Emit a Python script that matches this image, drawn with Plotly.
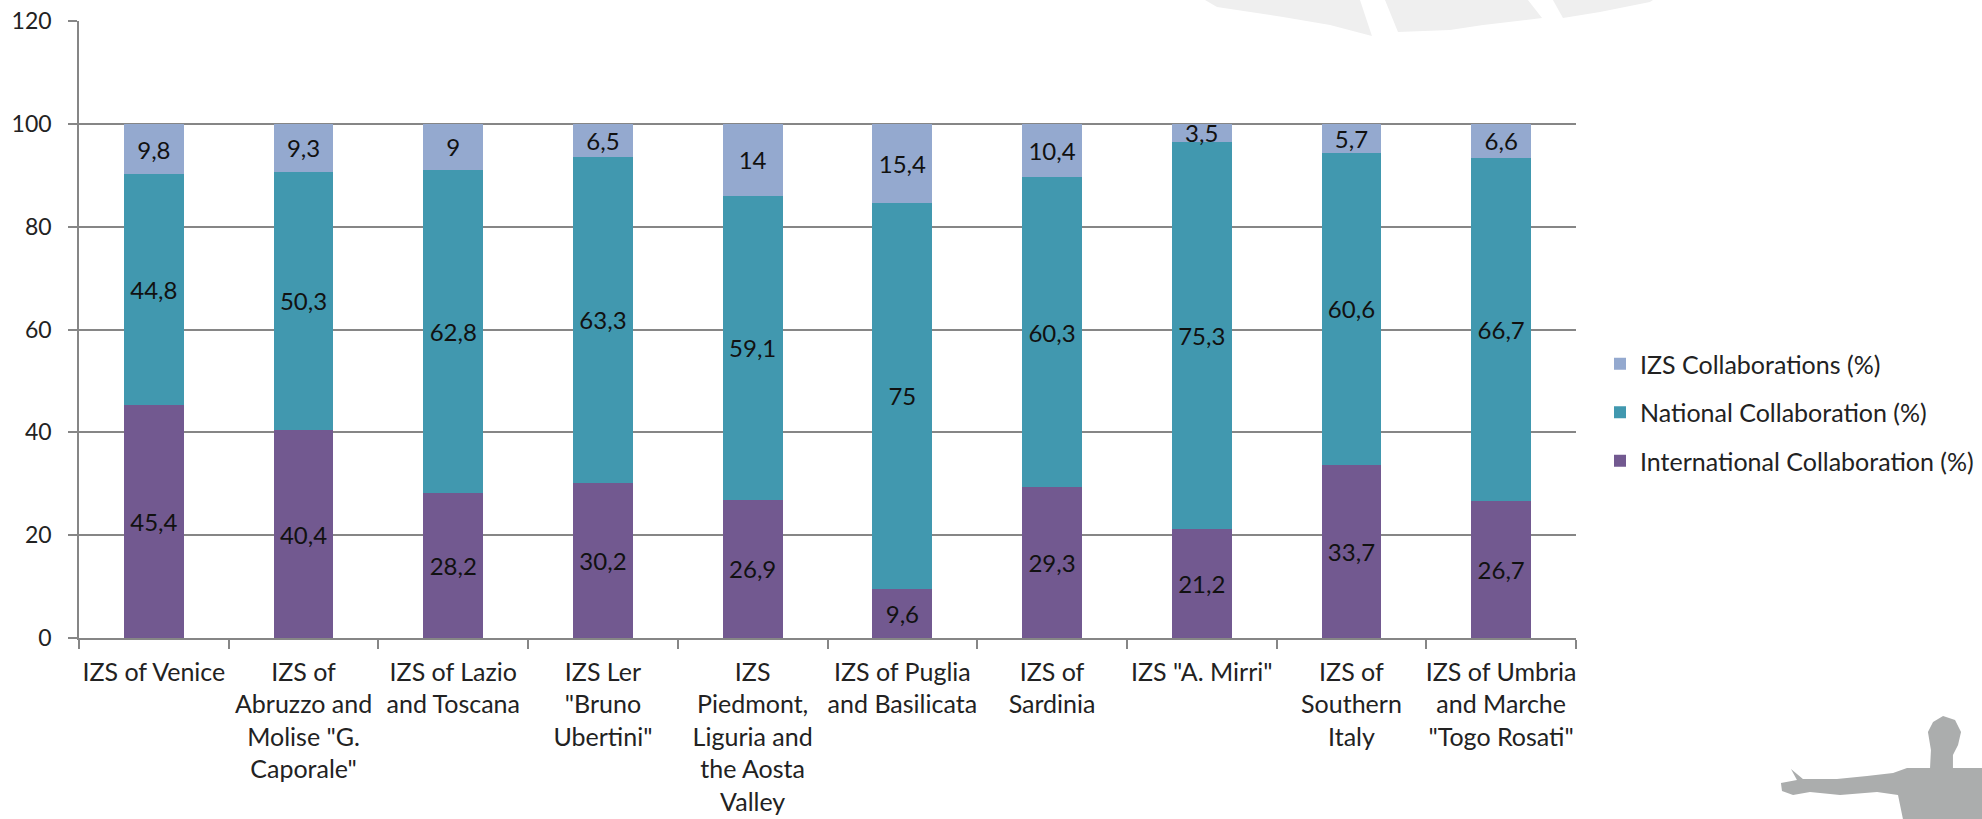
import plotly.graph_objects as go

categories = ['IZS of Venice', 'IZS of<br>Abruzzo and<br>Molise "G.<br>Caporale"', 'IZS of Lazio<br>and Toscana',
              'IZS Ler<br>"Bruno<br>Ubertini"', 'IZS<br>Piedmont,<br>Liguria and<br>the Aosta<br>Valley',
              'IZS of Puglia<br>and Basilicata', 'IZS of<br>Sardinia', 'IZS "A. Mirri"',
              'IZS of<br>Southern<br>Italy', 'IZS of Umbria<br>and Marche<br>"Togo Rosati"']
international = [45.4, 40.4, 28.2, 30.2, 26.9, 9.6, 29.3, 21.2, 33.7, 26.7]
national = [44.8, 50.3, 62.8, 63.3, 59.1, 75, 60.3, 75.3, 60.6, 66.7]
izs = [9.8, 9.3, 9, 6.5, 14, 15.4, 10.4, 3.5, 5.7, 6.6]
y_ticks = [0, 20, 40, 60, 80, 100, 120]

FONT = 'Lato'
W, H = 1982, 819
L, R, T, B = 79, 1576, 21, 638

def lab(v):
    return [str(x).replace('.', ',') for x in v]

fig = go.Figure()
for name, vals, col, rank in [('International Collaboration (%)', international, '#725990', 3),
                              ('National Collaboration (%)', national, '#4198AF', 2),
                              ('IZS Collaborations (%)', izs, '#94A9CF', 1)]:
    fig.add_trace(go.Bar(x=categories, y=vals, name=name, marker=dict(color=col, line=dict(width=0)),
                         text=lab(vals), textposition='inside', insidetextanchor='middle', textangle=0,
                         constraintext='none', textfont=dict(family=FONT, size=24, color='#111'),
                         legendgroup=name, legendrank=rank))

def px(x): return (x - L) / (R - L)
def py(y): return (B - y) / (B - T)
def path(pts):
    return 'M ' + ' L '.join(f'{px(a):.4f},{py(b):.4f}' for a, b in pts) + ' Z'

wm = [
    [(1205, 0), (1217, 7), (1283, 17), (1330, 25), (1372, 36), (1360, 0)],
    [(1385, 0), (1398, 32), (1450, 30), (1483, 25), (1542, 18), (1528, 0)],
    [(1553, 0), (1563, 18), (1600, 12), (1650, 2), (1653, 0)],
]
shapes = [dict(type='path', xref='paper', yref='paper', path=path(p), fillcolor='#EFEFEF',
               line=dict(width=0), layer='below') for p in wm]
person = [(1791, 769), (1803, 779), (1837, 779), (1867, 776), (1893, 773), (1907, 768), (1930, 768),
          (1931, 750), (1928, 732), (1933, 722), (1943, 716), (1955, 720), (1961, 732), (1958, 745),
          (1953, 755), (1953, 768), (1982, 768), (1982, 819), (1903, 819), (1898, 795), (1877, 792),
          (1840, 795), (1810, 792), (1793, 795), (1782, 791), (1781, 783), (1797, 780)]
shapes.append(dict(type='path', xref='paper', yref='paper', path=path(person), fillcolor='#ABADAD',
                   line=dict(width=0), layer='below'))

fig.update_layout(
    width=W, height=H, autosize=False, barmode='stack', bargap=0.6,
    paper_bgcolor='white', plot_bgcolor='rgba(0,0,0,0)',
    margin=dict(l=L, r=W - R, t=T, b=H - B, pad=0),
    font=dict(family=FONT, size=24, color='#222'),
    shapes=shapes,
    showlegend=True,
    legend=dict(x=1600 / W, y=1 - 341 / H, xref='container', yref='container', xanchor='left', yanchor='top',
                traceorder='grouped', tracegroupgap=13, itemwidth=30,
                font=dict(family=FONT, size=25, color='#222'), bgcolor='rgba(0,0,0,0)'),
    xaxis=dict(type='category', automargin=False, tickson='boundaries', ticks='outside', ticklen=9, tickwidth=1.5,
               tickcolor='#868686', showline=True, linecolor='#868686', linewidth=1.5, showgrid=False, tickangle=0,
               ticklabelstandoff=11, tickfont=dict(family=FONT, size=25, color='#222')),
    yaxis=dict(range=[0, 120], automargin=False, tickvals=y_ticks, ticks='outside', ticklen=9, tickwidth=1.5,
               tickcolor='#868686', showline=True, linecolor='#868686', linewidth=1.5, showgrid=True,
               gridcolor='#868686', gridwidth=1.5,
               zeroline=False, ticklabelstandoff=12, tickfont=dict(family=FONT, size=23, color='#222')),
)
fig.write_html('out.html', config=dict(displayModeBar=False),
               post_script="document.body.style.margin='0';document.body.style.overflow='hidden';")
